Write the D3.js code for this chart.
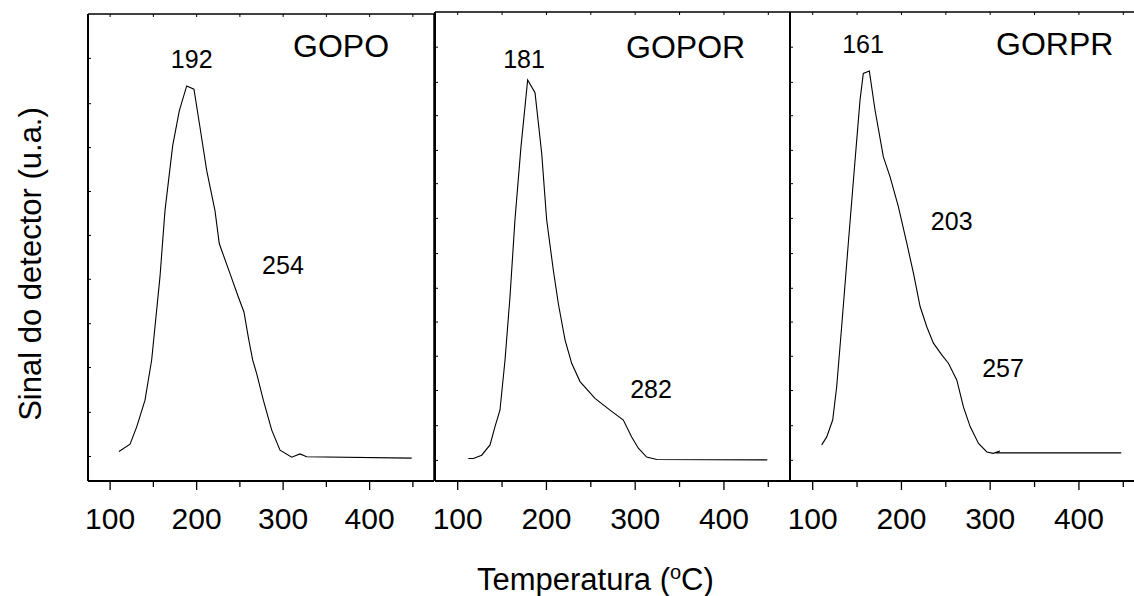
<!DOCTYPE html>
<html>
<head>
<meta charset="utf-8">
<script src="https://cdn.jsdelivr.net/npm/d3@7/dist/d3.min.js"></script>
<style>
  html, body { margin: 0; padding: 0; background: #fff; }
  svg { display: block; font-family: "Liberation Sans", Arial, sans-serif; }
</style>
</head>
<body>
<svg id="chart" width="1134" height="596"></svg>
<script>
// ---------------- DATA ----------------
const sampleNames = ["GOPO", "GOPOR", "GORPR"];

// GOPO curve: temperature (ºC) and detector signal (a.u.)
const gopoT = [110.8, 123.6, 131.3, 140.9, 148.6, 158.2, 164.0, 172.9, 180.6, 189.1, 197.5, 204.5, 212.2, 221.8, 226.8, 239.2, 248.8, 255.3, 260.3, 265.4, 270.0, 277.7, 287.4, 297.0, 310.5, 320.0, 327.8, 449.2];
const gopoS = [6.3, 7.9, 11.6, 17.3, 25.9, 43.7, 57.9, 71.8, 79.3, 84.6, 83.9, 75.7, 66.5, 57.9, 50.8, 44.4, 39.4, 36.2, 30.8, 25.9, 23.0, 17.3, 10.9, 6.6, 5.1, 5.8, 5.2, 4.9];

// GOPOR curve
const goporT = [112.5, 118.2, 127.6, 137.0, 142.6, 148.2, 153.9, 159.5, 165.1, 171.9, 179.4, 187.7, 195.2, 200.8, 208.3, 213.9, 221.5, 229.0, 238.4, 255.3, 272.2, 287.2, 296.6, 304.1, 313.5, 324.8, 449.4];
const goporS = [4.8, 4.8, 5.5, 7.7, 11.6, 15.1, 25.8, 39.3, 55.7, 71.3, 85.5, 82.8, 69.9, 55.7, 45.0, 37.9, 30.1, 25.1, 21.2, 17.6, 15.1, 13.0, 9.4, 7.0, 5.1, 4.6, 4.5];

// GORPR curve
const gorprT = [110.7, 116.4, 123.1, 127.6, 133.2, 140.7, 148.3, 153.9, 157.6, 164.4, 170.8, 180.2, 187.7, 197.1, 206.6, 214.1, 221.6, 229.1, 236.6, 246.0, 253.5, 263.0, 270.4, 278.0, 287.4, 296.8, 304.0, 311.5, 306.5, 448.2];
const gorprS = [7.7, 9.4, 13.0, 20.1, 32.9, 50.7, 68.4, 81.2, 86.9, 87.4, 79.1, 69.1, 64.9, 58.5, 50.7, 44.3, 37.2, 32.9, 29.4, 26.9, 25.1, 21.5, 15.8, 11.6, 8.0, 6.2, 5.9, 6.4, 6.0, 6.0];

// Peak labels (text, temperature, signal)
const gopoLabels  = [["192", 194.9, 88.4], ["254", 300.4, 44.3]];
const goporLabels = [["181", 175.3, 88.1], ["282", 318.4, 17.7]];
const gorprLabels = [["161", 157.3, 91.3], ["203", 257.2, 53.5], ["257", 315.0, 22.2]];

// Axis ticks
const xDomain = [75, 475];
const xMajorTicks = [100, 200, 300, 400];
const xMinorTicks = [150, 250, 350, 450];
const yDomain = [0, 100];
const yTicksGOPO  = [5.35, 14.8, 24.4, 33.8, 43.3, 52.7, 62.1, 71.5, 80.9, 90.6];
const yTicksGOPOR = [4.5, 11.9, 19.4, 26.7, 34.0, 41.2, 48.6, 56.1, 63.5, 70.6, 78.0, 85.1, 92.6];
const yTicksGORPR = [4.5, 11.9, 19.4, 26.7, 34.0, 41.2, 48.6, 56.1, 63.5, 70.6, 78.0, 85.1, 92.6];

const xTitle = "Temperatura (";
const xTitleSup = "o";
const xTitleEnd = "C)";
const yTitle = "Sinal do detector (u.a.)";

// ---------------- LAYOUT ----------------
const panels = [
  { name: sampleNames[0], T: gopoT,  S: gopoS,  labels: gopoLabels,  yTicks: yTicksGOPO,
    x0: 88,  x1: 434,  top: 14, bottom: 481, nameX: 293, nameY: 57 },
  { name: sampleNames[1], T: goporT, S: goporS, labels: goporLabels, yTicks: yTicksGOPOR,
    x0: 435, x1: 790,  top: 12, bottom: 481, nameX: 626, nameY: 58 },
  { name: sampleNames[2], T: gorprT, S: gorprS, labels: gorprLabels, yTicks: yTicksGORPR,
    x0: 790, x1: 1145, top: 12, bottom: 481, nameX: 996, nameY: 55 }
];

const svg = d3.select("#chart");

panels.forEach((p, i) => {
  const x = d3.scaleLinear().domain(xDomain).range([p.x0, p.x1]);
  const y = d3.scaleLinear().domain(yDomain).range([p.bottom, p.top]);
  const g = svg.append("g");

  // frame: top and right borders
  g.append("line").attr("x1", p.x0).attr("x2", p.x1).attr("y1", p.top).attr("y2", p.top)
    .attr("stroke", "#000").attr("stroke-width", 1.5);
  g.append("line").attr("x1", p.x1).attr("x2", p.x1).attr("y1", p.top).attr("y2", p.bottom)
    .attr("stroke", "#000").attr("stroke-width", 1.5);

  // top ticks (inward)
  const topAx = g.append("g").attr("transform", `translate(0,${p.top})`)
    .call(d3.axisTop(x).tickValues(xMajorTicks.concat(xMinorTicks)).tickSize(-3).tickFormat(""));
  topAx.select(".domain").remove();
  topAx.selectAll("line").attr("stroke", "#000").attr("stroke-width", 1);

  // left axis with inward ticks, no labels
  const leftAx = g.append("g").attr("transform", `translate(${p.x0},0)`)
    .call(d3.axisLeft(y).tickValues(p.yTicks).tickSize(-3).tickFormat(""));
  leftAx.select(".domain").attr("stroke", "#000").attr("stroke-width", 2)
    .attr("d", `M0,${p.top}V${p.bottom}`);
  leftAx.selectAll("line").attr("stroke", "#000").attr("stroke-width", 1);

  // bottom axis: major ticks with labels
  const botAx = g.append("g").attr("transform", `translate(0,${p.bottom})`)
    .call(d3.axisBottom(x).tickValues(xMajorTicks).tickSize(9).tickPadding(18).tickFormat(d3.format("d")));
  botAx.select(".domain").attr("stroke", "#000").attr("stroke-width", 2)
    .attr("d", `M${p.x0},0H${p.x1}`);
  botAx.selectAll("line").attr("stroke", "#000").attr("stroke-width", 1.3);
  botAx.selectAll("text").attr("font-size", 30).attr("fill", "#000")
    .attr("font-family", "'Liberation Sans', Arial, sans-serif");

  // minor bottom ticks
  const minAx = g.append("g").attr("transform", `translate(0,${p.bottom})`)
    .call(d3.axisBottom(x).tickValues(xMinorTicks).tickSize(6).tickFormat(""));
  minAx.select(".domain").remove();
  minAx.selectAll("line").attr("stroke", "#000").attr("stroke-width", 1.3);

  // curve
  const pts = p.T.map((t, k) => [t, p.S[k]]);
  const line = d3.line().x(d => x(d[0])).y(d => y(d[1]));
  g.append("path").datum(pts).attr("d", line)
    .attr("fill", "none").attr("stroke", "#000").attr("stroke-width", 1.1);

  // peak labels
  g.selectAll("text.peak").data(p.labels).enter().append("text")
    .attr("class", "peak")
    .attr("x", d => x(d[1])).attr("y", d => y(d[2]))
    .attr("text-anchor", "middle").attr("font-size", 25).attr("fill", "#000")
    .text(d => d[0]);

  // sample name
  g.append("text").attr("x", p.nameX).attr("y", p.nameY)
    .attr("font-size", 32).attr("fill", "#000").text(p.name);
});

// axis titles
const xt = svg.append("text").attr("x", 477).attr("y", 590)
  .attr("text-anchor", "start").attr("font-size", 31).attr("fill", "#000");
xt.append("tspan").text(xTitle);
xt.append("tspan").attr("font-size", 20).attr("dy", -11).text(xTitleSup);
xt.append("tspan").attr("dy", 11).text(xTitleEnd);

svg.append("text").attr("transform", "translate(41,264) rotate(-90)")
  .attr("text-anchor", "middle").attr("font-size", 31).attr("fill", "#000")
  .text(yTitle);
</script>
</body>
</html>
